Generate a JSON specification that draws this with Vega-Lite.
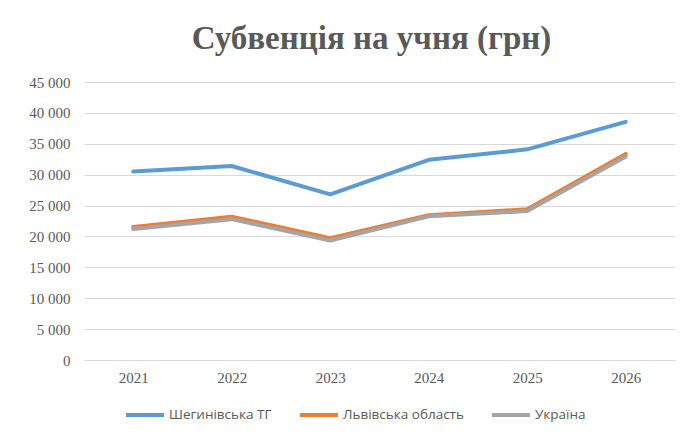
{
  "$schema": "https://vega.github.io/schema/vega-lite/v6.json",
  "autosize": {"type": "none"},
  "padding": {"left": 84, "top": 82, "right": 24, "bottom": 77},
  "width": 591,
  "height": 278,
  "background": "white",
  "title": {
    "text": "Субвенція на учня (грн)",
    "font": "Liberation Serif",
    "fontSize": 33,
    "fontWeight": "bold",
    "color": "#595959",
    "anchor": "middle",
    "frame": "group",
    "baseline": "alphabetic",
    "offset": -7,
    "dx": -8
  },
  "data": {
    "values": [
      {"year": "2021", "series": "Шегинівська ТГ", "value": 30500},
      {"year": "2022", "series": "Шегинівська ТГ", "value": 31400},
      {"year": "2023", "series": "Шегинівська ТГ", "value": 26800},
      {"year": "2024", "series": "Шегинівська ТГ", "value": 32400},
      {"year": "2025", "series": "Шегинівська ТГ", "value": 34100},
      {"year": "2026", "series": "Шегинівська ТГ", "value": 38550},
      {"year": "2021", "series": "Львівська область", "value": 21550},
      {"year": "2022", "series": "Львівська область", "value": 23180},
      {"year": "2023", "series": "Львівська область", "value": 19700},
      {"year": "2024", "series": "Львівська область", "value": 23450},
      {"year": "2025", "series": "Львівська область", "value": 24400},
      {"year": "2026", "series": "Львівська область", "value": 33350},
      {"year": "2021", "series": "Україна", "value": 21200},
      {"year": "2022", "series": "Україна", "value": 22800},
      {"year": "2023", "series": "Україна", "value": 19350},
      {"year": "2024", "series": "Україна", "value": 23250},
      {"year": "2025", "series": "Україна", "value": 24100},
      {"year": "2026", "series": "Україна", "value": 32950}
    ]
  },
  "mark": {"type": "line", "strokeWidth": 4, "strokeCap": "round", "strokeJoin": "round"},
  "encoding": {
    "x": {
      "field": "year",
      "type": "ordinal",
      "scale": {"type": "point", "padding": 0.5},
      "axis": {
        "title": null,
        "labelAngle": 0,
        "labelFont": "Liberation Serif",
        "labelFontSize": 15,
        "labelColor": "#595959",
        "labelPadding": 10,
        "ticks": false,
        "domain": true,
        "domainColor": "#D9D9D9",
        "grid": false
      }
    },
    "y": {
      "field": "value",
      "type": "quantitative",
      "scale": {"domain": [0, 45000], "nice": false},
      "axis": {
        "title": null,
        "values": [0, 5000, 10000, 15000, 20000, 25000, 30000, 35000, 40000, 45000],
        "labelExpr": "replace(format(datum.value, ','), ',', ' ')",
        "labelFont": "Liberation Serif",
        "labelFontSize": 15,
        "labelColor": "#595959",
        "labelPadding": 14,
        "ticks": false,
        "domain": false,
        "grid": true,
        "gridColor": "#D9D9D9",
        "gridWidth": 1
      }
    },
    "color": {
      "field": "series",
      "type": "nominal",
      "sort": ["Шегинівська ТГ", "Львівська область", "Україна"],
      "scale": {
        "domain": ["Шегинівська ТГ", "Львівська область", "Україна"],
        "range": ["#5B9BD5", "#ED7D31", "#A5A5A5"]
      },
      "legend": {
        "title": null,
        "orient": "none",
        "legendX": 40,
        "legendY": 312,
        "direction": "horizontal",
        "symbolType": "stroke",
        "symbolSize": 1444,
        "symbolStrokeWidth": 4,
        "labelFont": "Open Sans",
        "labelFontSize": 13.5,
        "labelColor": "#595959",
        "labelOffset": 3,
        "columnPadding": 20
      }
    }
  },
  "config": {
    "view": {"stroke": null}
  }
}
